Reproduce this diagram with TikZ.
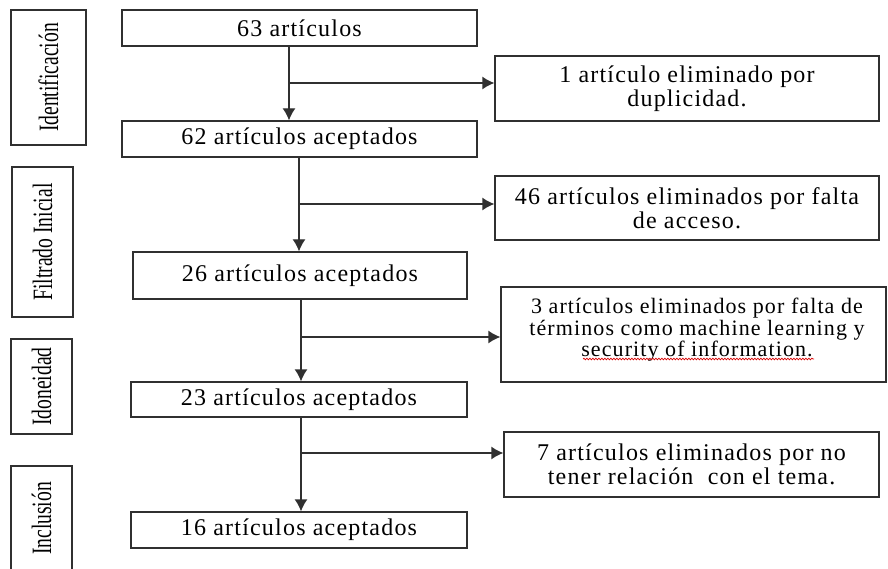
\documentclass[tikz,border=0pt]{standalone}
\usepackage{fontspec}
\usepackage{graphicx}
\setmainfont{Liberation Serif}
\newfontfamily\boxfont[LetterSpace=5]{Liberation Serif}
\usetikzlibrary{arrows.meta,decorations.pathmorphing}
\definecolor{lc}{HTML}{303030}
\tikzset{
  mainbox/.style={draw=lc, line width=1.3pt, inner sep=0pt, align=center,
    font=\boxfont\fontsize{24}{24}\selectfont},
  plaintext/.style={inner sep=0pt, align=center,
    font=\boxfont\fontsize{22}{21.5}\selectfont},
  sidebox/.style={draw=lc, line width=1.3pt, inner sep=0pt,
    font=\fontsize{28}{28}\selectfont},
  flow/.style={draw=lc, line width=1.3pt, -{Latex[length=12pt,width=13pt]}},
}
\newcommand{\vlab}[1]{\rotatebox{90}{\scalebox{0.7}[1]{#1}}}
\begin{document}
\begin{tikzpicture}[x=1pt,y=-1pt]
\useasboundingbox[fill=white] (0,0) rectangle (888,569);
% side labels
\node[sidebox, minimum width=75pt, minimum height=135pt] (l1) at (48.5,77.5) {\vlab{Identificación}};
\node[sidebox, minimum width=61pt, minimum height=150pt] (l2) at (42.5,242) {\vlab{Filtrado Inicial}};
\node[sidebox, minimum width=61pt, minimum height=95pt] (l3) at (41.5,386.5) {\vlab{Idoneidad}};
\node[sidebox, minimum width=61pt, minimum height=105pt] (l4) at (41.5,518.5) {\vlab{Inclusión}};
% main boxes
\node[mainbox, minimum width=355pt, minimum height=36pt] (b1) at (299.5,28) {63 artículos};
\node[mainbox, minimum width=355pt, minimum height=36pt] (b2) at (299.5,139) {62 artículos aceptados};
\node[mainbox, minimum width=334pt, minimum height=47pt] (b3) at (300,275.5) {26 artículos aceptados};
\node[mainbox, minimum width=336pt, minimum height=35pt] (b4) at (299,399.5) {23 artículos aceptados};
\node[mainbox, minimum width=336pt, minimum height=36pt] (b5) at (299,530) {16 artículos aceptados};
% right boxes
\node[mainbox, minimum width=384pt, minimum height=65pt] (r1) at (687,88.5) {1 artículo eliminado por\\duplicidad.};
\node[mainbox, minimum width=384pt, minimum height=64pt] (r2) at (687,208) {46 artículos eliminados por falta\\de acceso.};
\node[mainbox, minimum width=385pt, minimum height=95pt] (r3) at (693.5,334.5) {};
\node[plaintext] (r3t) at (697,330) {3 artículos eliminados por falta de\\términos como machine learning y\\security of information.};
\node[mainbox, minimum width=375pt, minimum height=65pt] (r4) at (691.5,464.5) {7 artículos eliminados por no\\tener relación \ con el tema.};
% junctions
\coordinate (j1) at (289,83);
\coordinate (j2) at (299,204);
\coordinate (j3) at (301,337);
\coordinate (j4) at (301,453);
% connectors
\draw[flow] (b1.south -| j1) -- (b2.north -| j1);
\draw[flow] (j1) -- (j1 -| r1.west);
\draw[flow] (b2.south -| j2) -- (b3.north -| j2);
\draw[flow] (j2) -- (j2 -| r2.west);
\draw[flow] (b3.south -| j3) -- (b4.north -| j3);
\draw[flow] (j3) -- (j3 -| r3.west);
\draw[flow] (b4.south -| j4) -- (b5.north -| j4);
\draw[flow] (j4) -- (j4 -| r4.west);
% spell-check underline
\draw[red!85!black, line width=0.7pt, decorate, decoration={snake, amplitude=0.8pt, segment length=3pt}] (583,359) -- (814,359);
\end{tikzpicture}
\end{document}
